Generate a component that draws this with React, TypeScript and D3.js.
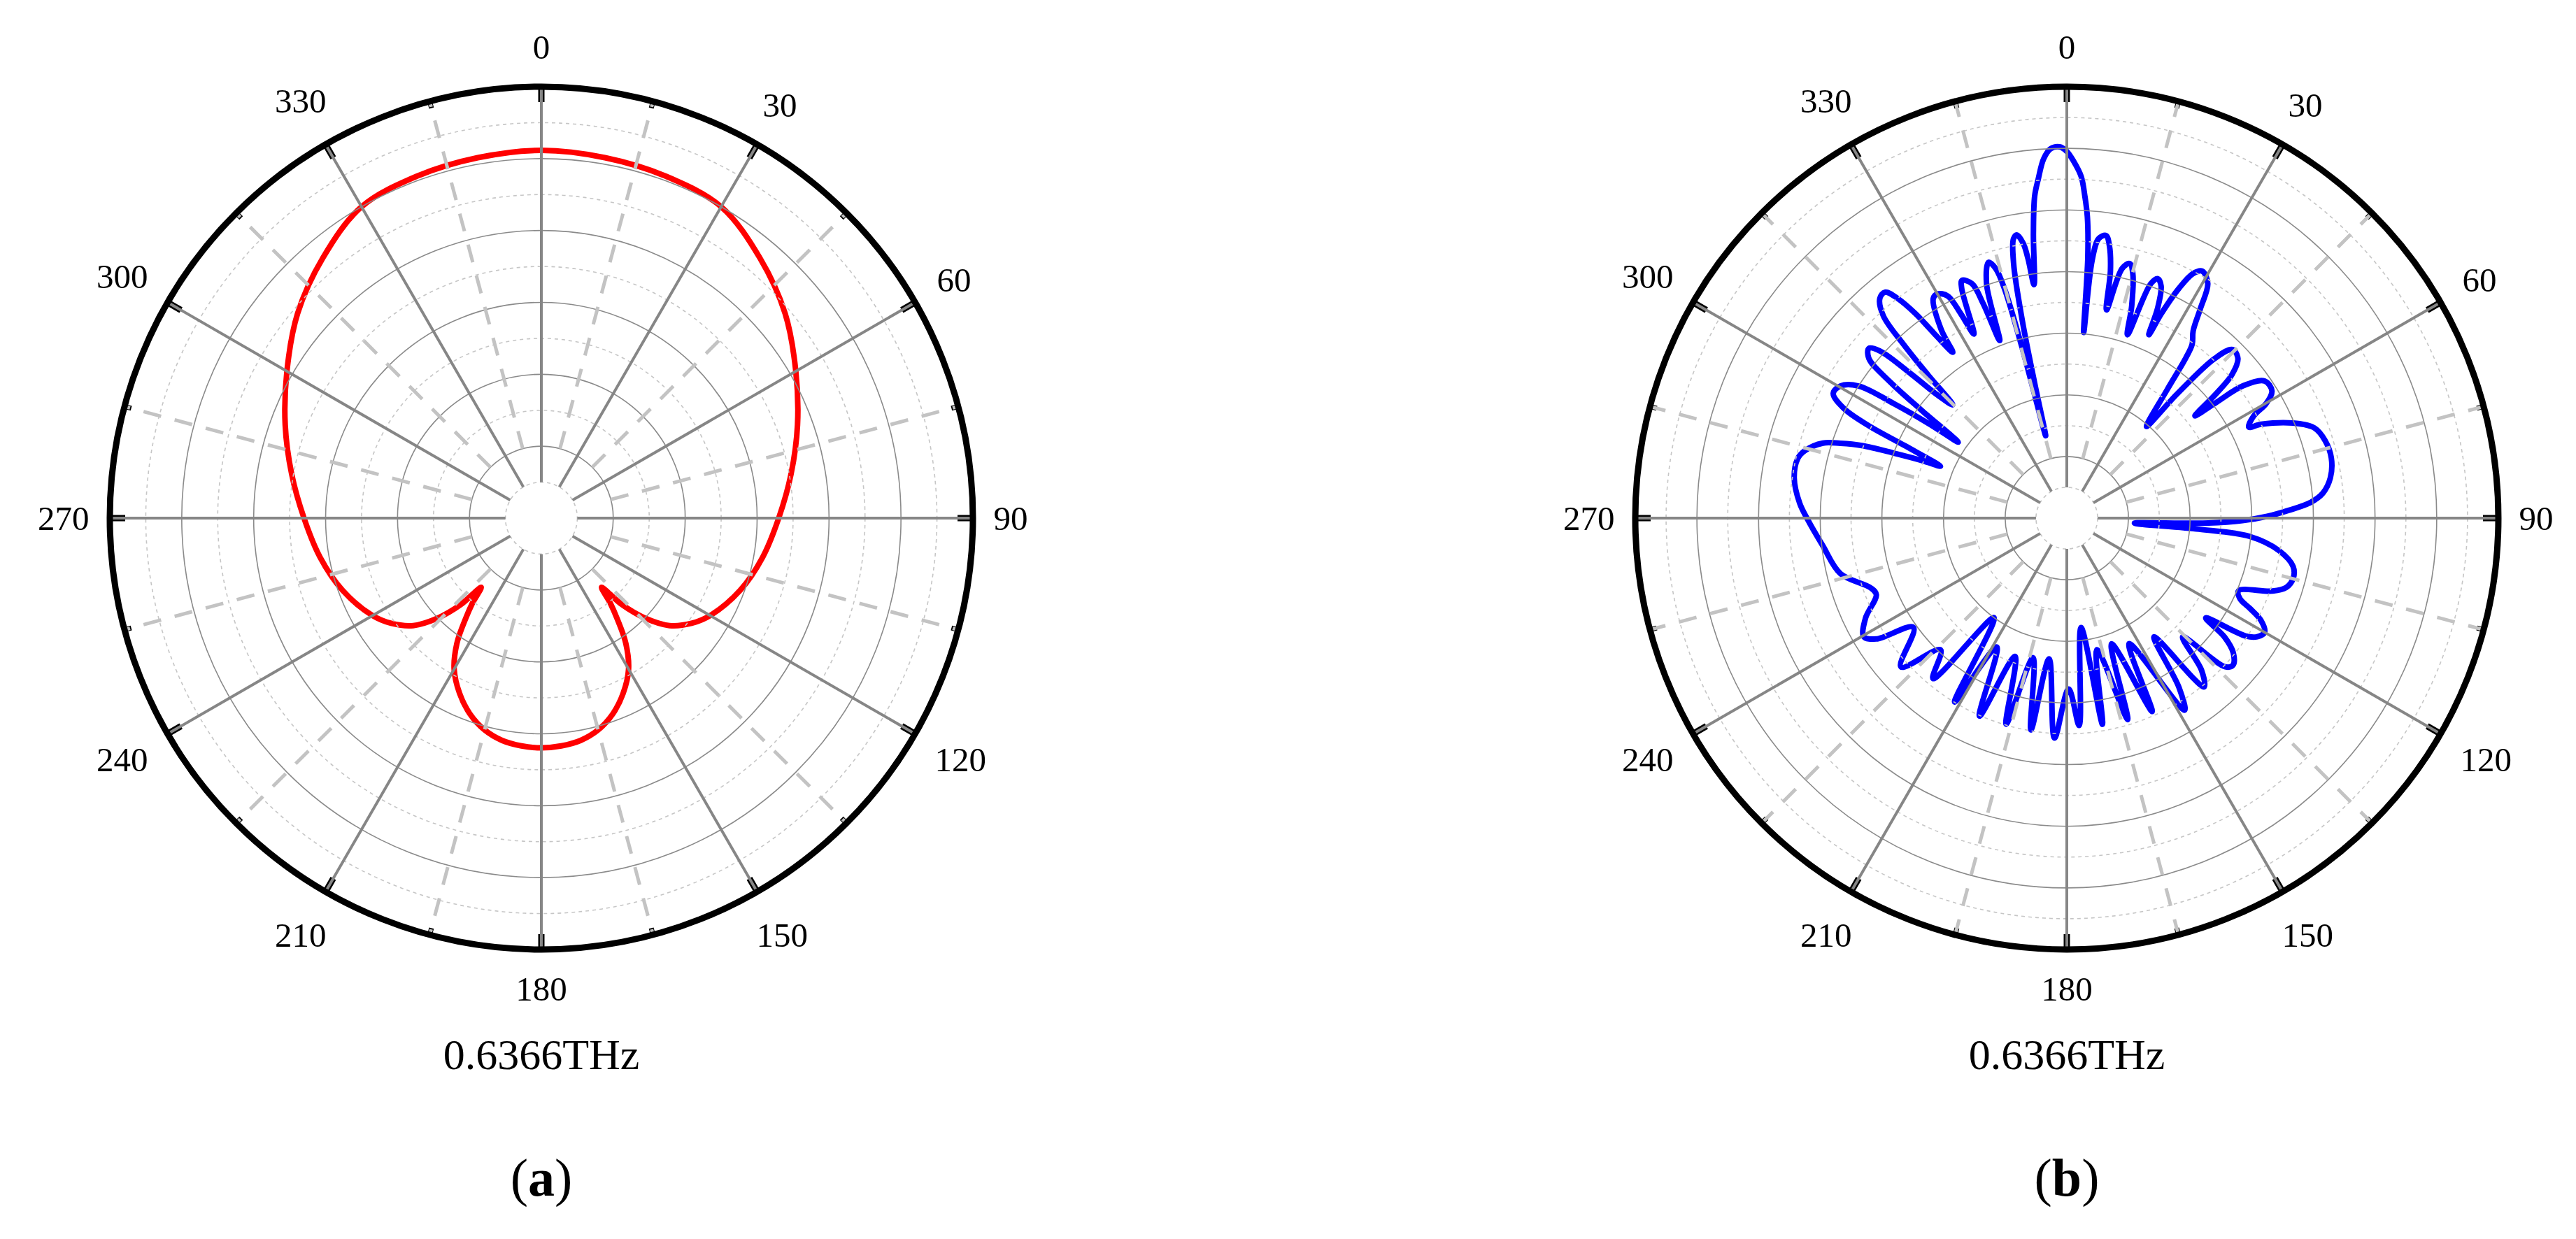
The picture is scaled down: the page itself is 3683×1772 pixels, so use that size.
import React from 'react';
import * as d3 from 'd3';

// ---------- data ----------
const angleTicks = [0, 30, 60, 90, 120, 150, 180, 210, 240, 270, 300, 330];
const minorAngles = [15, 45, 75, 105, 135, 165, 195, 225, 255, 285, 315, 345];

// (a) red pattern, radius in grid units (outer circle = 12)
const redAngles = [
  0, 10, 20, 30, 40, 50, 60, 70, 80, 90, 100, 110, 120, 125, 130, 134, 137, 139, 141, 143, 146, 150, 155, 160, 165, 170, 175,
  180, 185, 190, 195, 200, 205, 210, 214, 217, 219, 221, 223, 226, 230, 235, 240, 250, 260, 270, 280, 290, 300, 310, 320, 330, 340, 350,
];
const redValues = [
  10.23, 10.18, 10.12, 10.0, 9.45, 8.85, 8.17, 7.58, 7.05, 6.6, 6.25, 5.88, 5.42, 5.1, 4.65, 4.0, 3.3, 2.55, 3.05, 3.5, 4.2, 4.85, 5.38, 5.8, 6.1, 6.28, 6.36,
  6.39, 6.36, 6.28, 6.1, 5.8, 5.38, 4.85, 4.2, 3.5, 3.05, 2.55, 3.3, 4.0, 4.65, 5.1, 5.42, 5.88, 6.25, 6.6, 7.05, 7.58, 8.17, 8.85, 9.45, 10.0, 10.12, 10.18,
];

// (b) blue pattern, radius in grid units (outer circle = 14)
const blueAngles = [
  0, 1.1, 2.4, 3.2, 3.9, 4.6, 5.2, 5.6, 6.5, 7.9, 8.9, 10.0, 10.8, 12.5, 13.9, 15.1, 17.0, 18.3, 19.7, 20.8, 22.1, 23.4, 24.1,
  24.8, 26.0, 27.3, 28.7, 31.0, 32.5, 34.0, 35.8, 36.6, 38.0, 41.0, 41.6, 42.8, 44.5, 47.0, 49.0, 50.2, 51.4, 52.2, 53.1, 55.3,
  58.2, 60.1, 61.3, 63.4, 64.2, 67.2, 70.0, 73.3, 77.2, 81.3, 84.4, 86.4, 88.0, 89.5, 90.8, 92.0, 94.3, 94.8, 95.7, 98.7, 102.1,
  104.9, 107.6, 109.6, 112.9, 115.0, 116.3, 117.8, 120.0, 121.9, 123.4, 125.7, 127.0, 129.0, 131.5, 133.2, 135.7, 138.5, 140.9,
  143.7, 146.5, 148.5, 153.6, 156.2, 160.4, 163.2, 167.1, 170.2, 172.6, 176.6, 179.4, 183.2, 187.2, 189.6, 193.6, 196.4, 200.5,
  203.8, 208.5, 211.4, 216.2, 219.8, 223.8, 228.1, 234.5, 237.6, 239.7, 243.6, 248.1, 250.4, 256.2, 263.6, 269.6, 273.2, 278.4,
  282.5, 284.4, 287.1, 288.3, 289.5, 290.6, 291.7, 292.3, 294.1, 295.0, 296.2, 298.1, 300.3, 302.4, 303.5, 304.4, 305.0, 306.6,
  307.6, 308.9, 310.6, 311.8, 312.8, 313.6, 314.8, 315.9, 316.8, 317.8, 319.6, 321.2, 322.4, 323.5, 324.3, 325.5, 326.3, 328.7,
  330.0, 331.8, 332.6, 333.2, 335.4, 336.2, 338.0, 338.7, 339.3, 341.1, 343.0, 344.1, 344.8, 345.3, 345.6, 346.6, 347.3, 348.2,
  349.2, 350.0, 351.0, 351.5, 352.0, 353.3, 354.3, 355.2, 356.3, 357.5, 358.9,
];
const blueValues = [
  11.9, 11.58, 11.1, 10.47, 9.8, 8.5, 6.05, 8.4, 9.13, 9.26, 8.94, 8.15, 6.88, 8.3, 8.51, 8.22, 7.2, 6.27, 8.08, 8.31, 8.13, 7.41, 6.52,
  7.31, 8.29, 8.93, 9.14, 8.88, 8.07, 7.33, 6.95, 6.47, 5.28, 3.94, 5.37, 7.06, 7.67, 7.59, 7.1, 6.3, 5.32, 6.07, 7.15, 7.81,
  7.83, 7.46, 6.92, 6.6, 7.0, 7.96, 8.55, 8.75, 8.8, 8.65, 8.35, 7.9, 7.2, 6.5, 5.7, 4.6, 2.2, 4.3, 5.95, 6.96, 7.51,
  7.6, 7.46, 7.06, 6.05, 6.2, 6.64, 7.12, 7.41, 7.28, 6.95, 5.55, 6.4, 6.95, 7.2, 7.05, 5.38, 6.6, 7.06,
  4.78, 6.6, 7.31, 4.55, 6.86, 4.33, 6.83, 4.38, 6.79, 3.58, 6.74, 5.55, 7.15, 4.6, 6.97, 4.66, 6.97, 4.79,
  7.02, 4.76, 6.99, 4.0, 6.78, 5.92, 7.23, 6.11, 7.32, 7.63, 7.29, 6.66, 6.75, 7.56, 7.97, 8.4, 8.68, 8.94,
  8.94, 8.78, 8.28, 7.73, 7.05, 5.99, 5.04, 4.43, 5.76, 7.08, 8.06, 8.59, 8.5, 8.0, 6.73, 5.41, 4.3, 5.88,
  7.2, 8.25, 8.46, 8.14, 6.88, 5.79, 5.22, 6.47, 7.76, 8.86, 9.36, 9.41, 9.0, 8.26, 7.4, 6.53, 7.33, 8.34,
  8.4, 8.18, 7.46, 6.69, 8.19, 8.43, 8.2, 7.47, 6.16, 8.04, 8.68, 8.42, 7.72, 5.77, 2.76, 4.48, 6.56, 8.44,
  9.23, 9.33, 9.02, 8.51, 7.65, 9.29, 10.5, 11.05, 11.68, 12.0, 12.05,
];

const frequencyLabel = '0.6366THz';

// ---------- drawing ----------
const W = 3683;
const H = 1772;
const FONT = "'Liberation Serif', 'Times New Roman', serif";
const TICK_FS = 49;

type PanelProps = {
  cx: number;
  cy: number;
  R: number;
  steps: number;
  angles: number[];
  values: number[];
  color: string;
  tag: string;
};

function PolarPanel({ cx, cy, R, steps, angles, values, color, tag }: PanelProps) {
  const rScale = d3.scaleLinear().domain([0, steps]).range([0, R]);
  const aScale = d3.scaleLinear().domain([0, 360]).range([0, 2 * Math.PI]);
  const pts: [number, number][] = angles.map((t, i) => [t, values[i]]);
  const line = d3
    .lineRadial<[number, number]>()
    .angle((d) => aScale(d[0]))
    .radius((d) => rScale(d[1]))
    .curve(d3.curveCatmullRomClosed.alpha(0.5));

  const xy = (deg: number, rad: number): [number, number] => {
    const t = aScale(deg);
    return [Math.sin(t) * rad, -Math.cos(t) * rad];
  };

  const rings = d3.range(1, steps);

  // label box placed at a fixed gap outside the outer circle
  const labelPos = (a: number): [number, number] => {
    const t = aScale(a);
    const w = String(a).length * 0.5 * TICK_FS;
    const h = 1.107 * TICK_FS;
    const d = R + 4.5 + 25 + Math.abs(Math.sin(t)) * (w / 2) + Math.abs(Math.cos(t)) * (h / 2);
    return xy(a, d);
  };

  return (
    <g transform={`translate(${cx},${cy})`}>
      <path d={line(pts) || ''} fill="none" stroke={color} strokeWidth={8} strokeLinejoin="round" />
      {rings.map((k) => (
        <circle
          key={`ring${k}`}
          r={rScale(k)}
          fill="none"
          stroke={k % 2 === 0 ? '#8a8a8a' : '#c6c6c6'}
          strokeWidth={1.6}
          strokeDasharray={k % 2 === 0 ? undefined : '5 5'}
        />
      ))}
      {minorAngles.map((a) => {
        const [x1, y1] = xy(a, R - 10);
        const [x2, y2] = xy(a, R);
        return <line key={`mt${a}`} x1={x1} y1={y1} x2={x2} y2={y2} stroke="#000" strokeWidth={7} />;
      })}
      {angleTicks.map((a) => {
        const [x1, y1] = xy(a, R - 22);
        const [x2, y2] = xy(a, R);
        return <line key={`Mt${a}`} x1={x1} y1={y1} x2={x2} y2={y2} stroke="#000" strokeWidth={9} />;
      })}
      {minorAngles.map((a) => {
        const [x1, y1] = xy(a, rScale(2));
        const [x2, y2] = xy(a, R);
        return (
          <line
            key={`dr${a}`}
            x1={x1}
            y1={y1}
            x2={x2}
            y2={y2}
            stroke="#c3c3c3"
            strokeWidth={5}
            strokeDasharray="26 20"
          />
        );
      })}
      {angleTicks.map((a) => {
        const [x1, y1] = xy(a, rScale(1));
        const [x2, y2] = xy(a, R);
        return <line key={`sr${a}`} x1={x1} y1={y1} x2={x2} y2={y2} stroke="#868686" strokeWidth={4} />;
      })}
      <circle r={R} fill="none" stroke="#000" strokeWidth={9} />
      {angleTicks.map((a) => {
        const [x, y] = labelPos(a);
        return (
          <text
            key={`lb${a}`}
            x={x}
            y={y}
            textAnchor="middle"
            dominantBaseline="central"
            fontFamily={FONT}
            fontSize={TICK_FS}
            fill="#000"
          >
            {a}
          </text>
        );
      })}
      <text x={0} y={1529 - cy} textAnchor="middle" fontFamily={FONT} fontSize={62} fill="#000">
        {frequencyLabel}
      </text>
      <text x={0} y={1710 - cy} textAnchor="middle" fontFamily={FONT} fontSize={76} fill="#000">
        (<tspan fontWeight="bold">{tag}</tspan>)
      </text>
    </g>
  );
}

export default function App() {
  return (
    <svg
      width={W}
      height={H}
      viewBox={`0 0 ${W} ${H}`}
      style={{ position: 'absolute', left: 0, top: 0, background: '#fff' }}
    >
      <rect x={0} y={0} width={W} height={H} fill="#fff" />
      <PolarPanel cx={774} cy={741} R={617} steps={12} angles={redAngles} values={redValues} color="#ff0000" tag="a" />
      <PolarPanel cx={2955} cy={741} R={617} steps={14} angles={blueAngles} values={blueValues} color="#0000ff" tag="b" />
    </svg>
  );
}
